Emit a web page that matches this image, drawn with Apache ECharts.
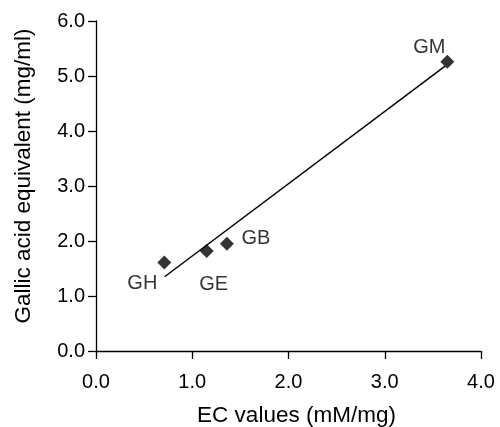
<!DOCTYPE html>
<html><head><meta charset="utf-8">
<script src="https://cdn.jsdelivr.net/npm/echarts@6/dist/echarts.min.js"></script>
<style>html,body{margin:0;padding:0;background:#fff}#c{width:500px;height:427px}</style>
</head><body><div id="c"></div>
<script>
const names = ['GH', 'GE', 'GB', 'GM'];
const ecValues = [0.71, 1.15, 1.36, 3.65];
const gallicValues = [1.61, 1.82, 1.95, 5.26];
const trendX = [0.713, 3.627];
const trendY = [1.35, 5.18];
const xTicks = ['0.0', '1.0', '2.0', '3.0', '4.0'];
const yTicks = ['0.0', '1.0', '2.0', '3.0', '4.0', '5.0', '6.0'];

const labelOffsets = { GH: [-22, 21], GE: [7, 34], GB: [29, -5], GM: [-18, -14] };
const FONT = '"Liberation Sans", Arial, Helvetica, sans-serif';

const chart = echarts.init(document.getElementById('c'), null, { renderer: 'canvas' });
const axisCommon = {
  type: 'value',
  axisLine: { show: true, lineStyle: { color: '#000', width: 1.3 } },
  axisTick: { show: true, inside: false, length: 8, lineStyle: { color: '#000', width: 1.3 } },
  splitLine: { show: false },
  nameLocation: 'middle',
};
chart.setOption({
  animation: false,
  grid: { left: 96, right: 19, top: 21, bottom: 76, containLabel: false, outerBoundsMode: 'none' },
  xAxis: Object.assign({}, axisCommon, {
    min: 0, max: 4, interval: 1,
    name: 'EC values (mM/mg)', nameGap: 53,
    nameTextStyle: { color: '#000', fontSize: 22.5, fontFamily: FONT, padding: [0, 0, 0, 16] },
    axisLabel: { color: '#000', fontSize: 20, fontFamily: FONT, margin: 21,
      formatter: (v) => xTicks[Math.round(v)] }
  }),
  yAxis: Object.assign({}, axisCommon, {
    min: 0, max: 6, interval: 1,
    name: 'Gallic acid equivalent (mg/ml)', nameGap: 61,
    nameTextStyle: { color: '#000', fontSize: 22.5, fontFamily: FONT, padding: [0, 0, 0, 20] },
    axisLabel: { color: '#000', fontSize: 20, fontFamily: FONT, margin: 11,
      formatter: (v) => yTicks[Math.round(v)] }
  }),
  series: [
    {
      type: 'line',
      data: trendX.map((x, i) => [x, trendY[i]]),
      showSymbol: false,
      symbol: 'none',
      lineStyle: { color: '#000', width: 1.5 },
      z: 2
    },
    {
      type: 'scatter',
      symbol: 'diamond',
      symbolSize: 14,
      itemStyle: { color: '#000' },
      data: names.map((n, i) => ({
        value: [ecValues[i], gallicValues[i]],
        name: n,
        label: { show: true, position: 'inside', offset: labelOffsets[n],
          formatter: n, color: '#000', fontSize: 20, fontFamily: FONT }
      })),
      z: 3
    }
  ]
});
</script>
</body></html>
